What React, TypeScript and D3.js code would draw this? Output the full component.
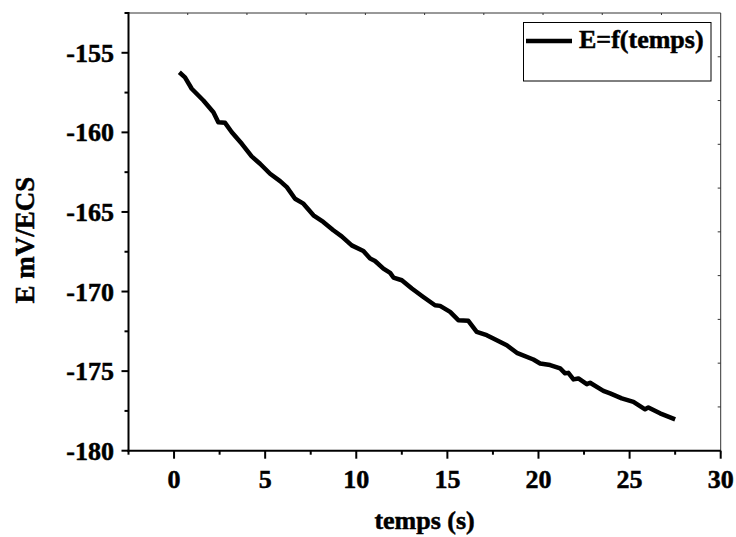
import React from 'react';
import * as d3 from 'd3';

const timeS = [0.29, 0.6, 0.97, 1.61, 2.16, 2.43, 2.8, 3.17, 3.72, 4.26, 4.72, 5.27, 5.82, 6.19, 6.64, 7.1, 7.65, 8.19, 8.74, 9.2, 9.75, 10.39, 10.76, 11.03, 11.49, 11.86, 12.04, 12.5, 13.05, 13.68, 14.32, 14.6, 15.15, 15.6, 16.15, 16.61, 17.16, 17.52, 18.26, 18.81, 19.72, 20.09, 20.64, 21.19, 21.46, 21.64, 21.92, 22.19, 22.65, 22.83, 23.56, 23.93, 24.57, 25.21, 25.85, 26.03, 26.67, 27.5];
const potentialMV = [-156.22, -156.54, -157.26, -158.0, -158.73, -159.36, -159.4, -159.99, -160.72, -161.51, -161.97, -162.6, -163.06, -163.44, -164.17, -164.48, -165.21, -165.63, -166.15, -166.53, -167.1, -167.45, -167.93, -168.08, -168.56, -168.83, -169.12, -169.29, -169.81, -170.34, -170.86, -170.9, -171.28, -171.8, -171.84, -172.53, -172.74, -172.95, -173.37, -173.85, -174.27, -174.52, -174.62, -174.83, -175.14, -175.11, -175.52, -175.46, -175.82, -175.73, -176.24, -176.4, -176.71, -176.93, -177.4, -177.28, -177.65, -178.03];

const xTicks = [0, 5, 10, 15, 20, 25, 30];
const yTicks = [-155, -160, -165, -170, -175, -180];
const xMinor = [-2.5, 2.5, 7.5, 12.5, 17.5, 22.5, 27.5];
const yMinor = [-152.5, -157.5, -162.5, -167.5, -172.5, -177.5];
const legendLabel = 'E=f(temps)';
const xTitle = 'temps (s)';
const yTitle = 'E mV/ECS';

const FONT = "'Liberation Serif', 'Times New Roman', Times, serif";
const txt = { fontFamily: FONT, fontWeight: 700 as const };
const FS = 26;

export default function App() {
  const W = 736, H = 537;
  const left = 128.5, right = 720.7, top = 13, bottom = 450.7;
  const x = d3.scaleLinear().domain([-2.5, 30]).range([left, right]);
  const y = d3.scaleLinear().domain([-180, -152.5]).range([bottom, top]);
  const pts = timeS.map((t, i) => [t, potentialMV[i]] as [number, number]);
  const line = d3.line<[number, number]>().x(d => x(d[0])).y(d => y(d[1]));
  const topDiv = d3.range(1, 10).map(k => x(-2.5 + k * 3.25));
  const rightDiv = d3.range(1, 10).map(k => y(-180 + k * 2.75));

  return (
    <svg width={W} height={H} style={{ position: 'absolute', left: 0, top: 0, background: '#fff' }}>
      <rect x={0} y={0} width={W} height={H} fill="#fff" />
      <line x1={left} y1={top} x2={right} y2={top} stroke="#333" strokeWidth={1} />
      <line x1={right} y1={top} x2={right} y2={bottom + 3} stroke="#333" strokeWidth={1} />
      {topDiv.map((px, i) => (
        <line key={'td' + i} x1={px} y1={top} x2={px} y2={top + 2} stroke="#333" strokeWidth={1} />
      ))}
      {rightDiv.map((py, i) => (
        <line key={'rd' + i} x1={right} y1={py} x2={right - 3} y2={py} stroke="#333" strokeWidth={1} />
      ))}
      <line x1={left} y1={top - 1} x2={left} y2={bottom + 1} stroke="#000" strokeWidth={2} />
      <line x1={left - 1} y1={bottom} x2={right} y2={bottom} stroke="#000" strokeWidth={2} />
      <g stroke="#000" strokeWidth={0.5}>
        {xTicks.map(v => (
          <text key={'xl' + v} x={x(v)} y={488} textAnchor="middle" style={txt} fontSize={FS} fill="#000">{v}</text>
        ))}
        {yTicks.map(v => (
          <text key={'yl' + v} x={114} y={y(v) + 9} textAnchor="end" style={txt} fontSize={FS} fill="#000">{v}</text>
        ))}
        <text x={579} y={48} style={txt} fontSize={FS} fill="#000">{legendLabel}</text>
        <text x={424.6} y={529} textAnchor="middle" style={txt} fontSize={FS} fill="#000">{xTitle}</text>
        <text transform={`translate(33.5,240) rotate(-90)`} textAnchor="middle" style={txt} fontSize={27} fill="#000">{yTitle}</text>
      </g>
      {xTicks.map(v => (
        <line key={'xt' + v} x1={x(v)} y1={bottom} x2={x(v)} y2={bottom + 8} stroke="#000" strokeWidth={2} />
      ))}
      {xMinor.map(v => (
        <line key={'xm' + v} x1={x(v)} y1={bottom} x2={x(v)} y2={bottom + 4} stroke="#000" strokeWidth={2} />
      ))}
      {yTicks.map(v => (
        <line key={'yt' + v} x1={left} y1={y(v)} x2={left - 7} y2={y(v)} stroke="#000" strokeWidth={2} />
      ))}
      {yMinor.map(v => (
        <line key={'ym' + v} x1={left} y1={y(v)} x2={left - 4} y2={y(v)} stroke="#000" strokeWidth={2} />
      ))}
      <path d={line(pts) || ''} fill="none" stroke="#000" strokeWidth={4.5} strokeLinejoin="round" strokeLinecap="butt" />
      <rect x={523.5} y={22.5} width={187.5} height={58.5} fill="none" stroke="#000" strokeWidth={1} />
      <line x1={526} y1={41} x2={572} y2={41} stroke="#000" strokeWidth={4.5} />
    </svg>
  );
}
